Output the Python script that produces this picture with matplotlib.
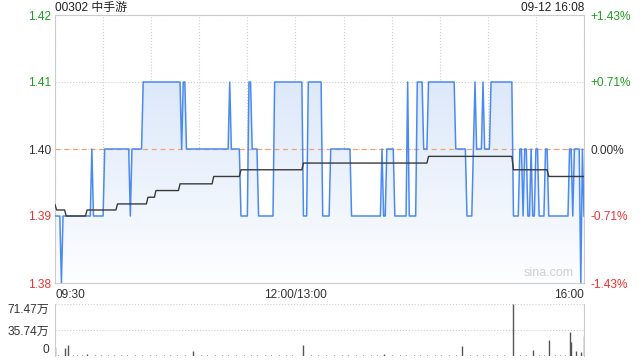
import numpy as np
import matplotlib.pyplot as plt
from matplotlib.colors import LinearSegmentedColormap

plt.rcParams['font.family'] = ['Liberation Sans', 'Noto Sans CJK SC', 'DejaVu Sans']

# minutes from 09:30 with the lunch break removed (12:00/13:00 = 150, 16:00 = 330)
prev_close = 1.40
price_chg_min = [0, 4, 5, 23, 24, 31, 47, 48, 55, 79, 80, 82, 109, 110, 116, 121,
                 123, 127, 137, 155, 158, 167, 172, 185, 204, 205, 207, 212, 220,
                 221, 226, 230, 233, 250, 257, 261, 262, 263, 267, 268, 272, 286,
                 290, 292, 293, 295, 297, 298, 300, 302, 306, 308, 321, 323, 324,
                 328, 329, 330]
price_chg_val = [1.39, 1.38, 1.39, 1.40, 1.39, 1.40, 1.39, 1.40, 1.41, 1.40, 1.41,
                 1.40, 1.41, 1.40, 1.39, 1.41, 1.40, 1.39, 1.41, 1.39, 1.41, 1.39,
                 1.40, 1.39, 1.40, 1.39, 1.40, 1.39, 1.41, 1.39, 1.41, 1.40, 1.41,
                 1.40, 1.39, 1.40, 1.41, 1.40, 1.41, 1.40, 1.41, 1.39, 1.40, 1.39,
                 1.40, 1.39, 1.40, 1.39, 1.40, 1.39, 1.40, 1.39, 1.40, 1.39, 1.40,
                 1.38, 1.40, 1.39]

avg_chg_min = [0, 1, 7, 20, 39, 58, 63, 78, 99, 116, 155, 233, 286, 308]
avg_chg_val = [1.3917, 1.3909, 1.3900, 1.3909, 1.3918, 1.3928, 1.3938, 1.3948,
               1.3959, 1.3969, 1.3979, 1.3989, 1.3969, 1.3959]

# volume, 万股
vol_min = [0, 6, 8, 20, 86, 155, 205, 254, 286, 298, 308, 321, 322, 325, 328, 330]
vol_val = [13.0, 11.0, 15.0, 2.5, 7.0, 15.0, 2.5, 13.7, 71.47, 8.2, 22.0, 33.4,
           19.5, 7.0, 5.0, 27.5]
small_min = [2, 11, 14, 17, 25, 29, 33, 37, 41, 45, 50, 54, 59, 63, 68, 72, 76, 81,
             91, 95, 100, 104, 108, 113, 118, 122, 126, 131, 135, 140, 144, 148,
             160, 164, 169, 174, 179, 183, 188, 192, 197, 201, 210, 215, 219, 224,
             228, 232, 237, 241, 246, 250, 259, 263, 267, 271, 276, 280, 290, 294,
             302, 305, 312, 315, 318]
small_val = [1.5, 1.2, 1.0, 2.0, 1.2, 1.0, 1.5, 1.0, 1.2, 1.0, 1.5, 1.0, 1.2, 1.5,
             1.0, 1.2, 1.0, 1.5, 1.2, 1.0, 1.5, 1.0, 1.2, 1.0, 1.5, 1.2, 1.0, 1.5,
             1.0, 1.2, 1.0, 1.5, 1.2, 1.0, 1.5, 1.0, 1.2, 1.0, 1.5, 1.0, 1.2, 1.0,
             1.5, 1.2, 1.0, 1.5, 1.0, 1.2, 1.0, 1.5, 1.0, 1.2, 1.5, 1.0, 1.2, 1.0,
             1.5, 1.2, 2.0, 1.5, 1.2, 1.5, 2.0, 1.5, 1.2]

t = np.arange(0, 331)
price = np.array(price_chg_val)[np.searchsorted(price_chg_min, t, side='right') - 1]
avg = np.array(avg_chg_val)[np.searchsorted(avg_chg_min, t, side='right') - 1]

green, red, dark = '#1f9e1f', '#ee3333', '#333333'
fs = 8.6

fig = plt.figure(figsize=(6.4, 3.6), dpi=100)
ax = fig.add_axes([55 / 640, 1 - 283 / 360, 529 / 640, 268 / 360])

fill = ax.fill_between(t, price, 1.38, facecolor='none', edgecolor='none')
cmap = LinearSegmentedColormap.from_list('fill', ['#fdfeff', '#d2e1f8'])
im = ax.imshow(np.linspace(0, 1, 200).reshape(-1, 1), cmap=cmap, aspect='auto',
               origin='lower', extent=[0, 330, 1.38, 1.42], zorder=1)
im.set_clip_path(fill.get_paths()[0], transform=ax.transData)

ax.axhline(prev_close, color='#f3a170', lw=0.9, ls=(0, (4, 3)), zorder=2)
ax.plot(t, price, color='#4a8af0', lw=1.1, zorder=3)
ax.plot(t, avg, color='#3a3a3a', lw=1.0, zorder=4)

ax.set_xlim(0, 330)
ax.set_ylim(1.38, 1.42)
yt = [1.38, 1.39, 1.40, 1.41, 1.42]
ax.set_yticks(yt)
ax.set_yticklabels([f'{v:.2f}' for v in yt])
cols = [red if v < prev_close else green if v > prev_close else dark for v in yt]
for lab, c in zip(ax.get_yticklabels(), cols):
    lab.set_color(c)
xt = list(range(0, 331, 30))
ax.set_xticks(xt)
xl = ['' for _ in xt]
xl[0], xl[5], xl[-1] = '09:30', '12:00/13:00', '16:00'
ax.set_xticklabels(xl)
ax.get_xticklabels()[0].set_ha('left')
ax.get_xticklabels()[-1].set_ha('right')
ax.tick_params(axis='both', length=0, labelsize=fs)
ax.tick_params(axis='y', pad=3)
ax.tick_params(axis='x', pad=4, colors=dark)
ax.grid(color='#cfcfcf', ls=':', lw=0.8)
ax.set_axisbelow(True)
for s in ax.spines.values():
    s.set_color('#cccccc')
    s.set_linewidth(0.8)

axr = ax.twinx()
axr.set_ylim(1.38, 1.42)
axr.set_yticks(yt)
axr.set_yticklabels([f'{(v / prev_close - 1) * 100:+.2f}%' if v != prev_close else '0.00%'
                     for v in yt])
for lab, c in zip(axr.get_yticklabels(), cols):
    lab.set_color(c)
axr.tick_params(axis='y', length=0, labelsize=fs, pad=5)
for s in axr.spines.values():
    s.set_visible(False)

ax.text(0.98, 0.015, 'sina.com', transform=ax.transAxes, ha='right', va='bottom',
        color='#d0d0d0', fontsize=9, zorder=5)

fig.text(55 / 640, 1 - 8 / 360, '00302 中手游', ha='left', va='center',
         fontsize=fs, color='#222222')
fig.text(584 / 640, 1 - 8 / 360, '09-12 16:08', ha='right', va='center',
         fontsize=fs, color='#222222')

# volume panel
av = fig.add_axes([55 / 640, 1 - 356 / 360, 529 / 640, 52 / 360])
av.vlines(small_min, 0, small_val, color='#555555', lw=0.8)
av.vlines(vol_min, 0, vol_val, color='#555555', lw=1.0)
av.set_xlim(0, 330)
av.set_ylim(0, 71.47)
av.set_xticks([])
av.set_yticks([0, 35.74, 71.47])
av.set_yticklabels(['0', '35.74万', '71.47万'])
av.tick_params(axis='y', length=0, labelsize=fs, pad=4, colors=dark)
vl = av.get_yticklabels()
vl[0].set_va('bottom')
vl[2].set_va('top')
av.grid(axis='y', color='#cfcfcf', ls=':', lw=0.8)
av.set_axisbelow(True)
for k in ['top', 'bottom']:
    av.spines[k].set_visible(False)
for k in ['left', 'right']:
    av.spines[k].set_color('#cccccc')
    av.spines[k].set_linewidth(0.8)

fig.savefig('out.png', dpi=100)
